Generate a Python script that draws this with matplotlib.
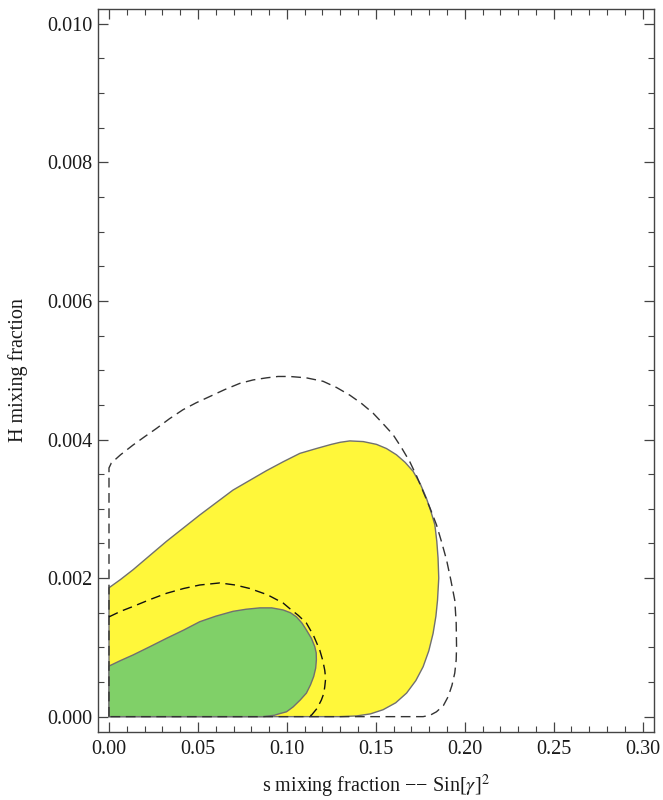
import matplotlib
matplotlib.use("Agg")
import matplotlib.pyplot as plt
from matplotlib.ticker import MultipleLocator, FormatStrFormatter

plt.rcParams["font.family"] = ["Liberation Serif", "DejaVu Serif"]
plt.rcParams["mathtext.fontset"] = "stix"

# yellow region boundary (closed)
yellow_x = [0, 0, 0.0065, 0.0135, 0.0323, 0.051, 0.0697, 0.0885, 0.098, 0.1073, 0.1166, 0.125,
            0.130, 0.1354, 0.143, 0.1504, 0.156, 0.1616, 0.1665, 0.171, 0.175, 0.1785, 0.181,
            0.1832, 0.1843, 0.185, 0.1854, 0.1847, 0.1838, 0.1822, 0.1798, 0.1766, 0.1725,
            0.1673, 0.1612, 0.1541, 0.147, 0.1391, 0.13, 0]
yellow_y = [0, 0.00186, 0.00198, 0.00212, 0.00253, 0.00291, 0.00327, 0.00355, 0.00368, 0.00380,
            0.00387, 0.00393, 0.00396, 0.00398, 0.00397, 0.00393, 0.00387, 0.00378, 0.00367,
            0.00354, 0.00336, 0.00315, 0.00296, 0.00277, 0.00253, 0.00229, 0.00200, 0.00168,
            0.00145, 0.00120, 0.00095, 0.00072, 0.00052, 0.00034, 0.0002, 0.0001, 0.00004,
            0.00001, 0, 0]

# green region boundary (closed)
green_x = [0, 0, 0.0065, 0.0135, 0.023, 0.0323, 0.042, 0.051, 0.06, 0.0697, 0.077, 0.0848,
           0.0915, 0.0979, 0.102, 0.1054, 0.1085, 0.111, 0.1138, 0.1157, 0.1165, 0.1166, 0.1162,
           0.1151, 0.1133, 0.111, 0.1075, 0.1035, 0.0998, 0.0955, 0.093, 0.0866, 0]
green_y = [0, 0.00073, 0.00081, 0.00089, 0.00101, 0.00113, 0.00125, 0.00137, 0.00145, 0.00152,
           0.00155, 0.00157, 0.00157, 0.00154, 0.0015, 0.00144, 0.00135, 0.00125, 0.00113,
           0.00101, 0.00092, 0.00082, 0.0007, 0.00058, 0.00046, 0.00034, 0.00024, 0.00014,
           0.00007, 0.00004, 0.00002, 0, 0]

# outer dashed contour
outer_x = [0, 0, 0.0013, 0.0065, 0.0135, 0.020, 0.0267, 0.034, 0.0416, 0.049, 0.0566, 0.065,
           0.0735, 0.081, 0.0885, 0.095, 0.1016, 0.111, 0.1204, 0.128, 0.1354, 0.142, 0.1485,
           0.154, 0.1597, 0.1645, 0.1691, 0.173, 0.1766, 0.1805, 0.1841, 0.187, 0.1898, 0.1922,
           0.1944, 0.1952, 0.1954, 0.1952, 0.1944, 0.1928, 0.1907, 0.188, 0.1841, 0.1805,
           0.1766, 0]
outer_y = [0, 0.00359, 0.00366, 0.00378, 0.00392, 0.00404, 0.00416, 0.0043, 0.00443, 0.00453,
           0.00462, 0.00472, 0.00481, 0.00486, 0.00489, 0.00491, 0.00491, 0.00489, 0.00484,
           0.00475, 0.00464, 0.00452, 0.00438, 0.00423, 0.00407, 0.00388, 0.00368, 0.00347,
           0.00325, 0.00301, 0.00277, 0.00252, 0.00226, 0.00197, 0.00168, 0.00135, 0.00101,
           0.00082, 0.00063, 0.00045, 0.00029, 0.00016, 0.00007, 0.00002, 0, 0]

# inner dashed contour
inner_x = [0, 0.0065, 0.0135, 0.023, 0.0323, 0.042, 0.051, 0.0623, 0.071, 0.0791, 0.089,
           0.0979, 0.1016, 0.1065, 0.111, 0.115, 0.1185, 0.1202, 0.1213, 0.1218, 0.1213,
           0.1207, 0.1194, 0.117, 0.1138, 0.110]
inner_y = [0.00144, 0.00152, 0.00159, 0.00169, 0.00178, 0.00185, 0.0019, 0.00193, 0.0019,
           0.00185, 0.00176, 0.00164, 0.00156, 0.00146, 0.00135, 0.00117, 0.00096, 0.00081,
           0.00067, 0.00055, 0.00043, 0.00033, 0.00024, 0.00012, 0.00002, 0]

fig = plt.figure(figsize=(6.63, 8.0), dpi=100)
ax = fig.add_axes([0.1483, 0.0854, 0.8381, 0.903])

edge = "#707070"
ax.fill(yellow_x, yellow_y, facecolor="#FFF73A", edgecolor=edge, linewidth=1.0,
        joinstyle="round", zorder=1)
ax.fill(green_x, green_y, facecolor="#80D068", edgecolor=edge, linewidth=1.0,
        joinstyle="round", zorder=2)
ax.plot(outer_x, outer_y, color="#333333", linewidth=1.0, dashes=(7, 4),
        dash_joinstyle="round", zorder=3)
ax.plot(inner_x, inner_y, color="#111111", linewidth=1.0, dashes=(7, 4),
        dash_joinstyle="round", zorder=3)

ax.set_xlim(-0.006, 0.3064)
ax.set_ylim(-0.000217, 0.01021)

ax.xaxis.set_major_locator(MultipleLocator(0.05))
ax.xaxis.set_minor_locator(MultipleLocator(0.01))
ax.yaxis.set_major_locator(MultipleLocator(0.002))
ax.yaxis.set_minor_locator(MultipleLocator(0.0005))
ax.xaxis.set_major_formatter(FormatStrFormatter("%.2f"))
ax.yaxis.set_major_formatter(FormatStrFormatter("%.3f"))

ax.tick_params(which="both", direction="in", top=True, right=True, color="#444444",
               labelcolor="#1a1a1a", labelsize=14.5)
ax.tick_params(which="major", length=7.5, width=0.9)
ax.tick_params(which="minor", length=4.5, width=0.8)
ax.tick_params(axis="x", pad=6)
ax.tick_params(axis="y", pad=4)
for sp in ax.spines.values():
    sp.set_color("#444444")
    sp.set_linewidth(1.0)

ax.set_xlabel("s mixing fraction \u2212\u2212 Sin[$\\gamma$]$^2$", fontsize=14.5, labelpad=10,
              color="#1a1a1a")
ax.set_ylabel("H mixing fraction", fontsize=14.5, labelpad=14, color="#1a1a1a")

fig.savefig("out.png", dpi=100)
